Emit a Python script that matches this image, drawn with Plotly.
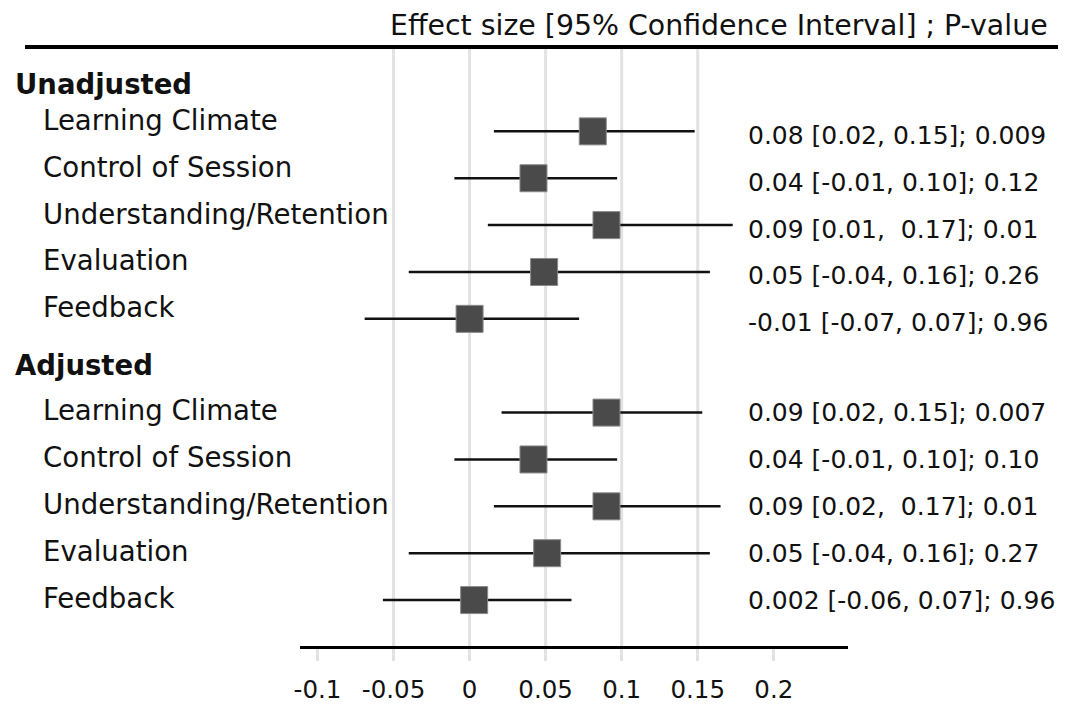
import plotly.graph_objects as go

# ---- data ----
groups = ["Unadjusted", "Adjusted"]
outcomes = ["Learning Climate", "Control of Session", "Understanding/Retention",
            "Evaluation", "Feedback"]

unadj_est = [0.081, 0.042, 0.090, 0.049, 0.000]
unadj_lo = [0.016, -0.010, 0.012, -0.040, -0.069]
unadj_hi = [0.148, 0.097, 0.173, 0.158, 0.072]
unadj_text = ["0.08 [0.02, 0.15]; 0.009", "0.04 [-0.01, 0.10]; 0.12",
              "0.09 [0.01,  0.17]; 0.01", "0.05 [-0.04, 0.16]; 0.26",
              "-0.01 [-0.07, 0.07]; 0.96"]

adj_est = [0.090, 0.042, 0.090, 0.051, 0.003]
adj_lo = [0.021, -0.010, 0.016, -0.040, -0.057]
adj_hi = [0.153, 0.097, 0.165, 0.158, 0.067]
adj_text = ["0.09 [0.02, 0.15]; 0.007", "0.04 [-0.01, 0.10]; 0.10",
            "0.09 [0.02,  0.17]; 0.01", "0.05 [-0.04, 0.16]; 0.27",
            "0.002 [-0.06, 0.07]; 0.96"]

tick_vals = [-0.1, -0.05, 0, 0.05, 0.1, 0.15, 0.2]
tick_text = ["-0.1", "-0.05", "0", "0.05", "0.1", "0.15", "0.2"]
grid_vals = [-0.05, 0, 0.05, 0.1, 0.15]
header_text = "Effect size [95% Confidence Interval] ; P-value"

FONT = "DejaVu Sans, Verdana, sans-serif"
TXT = "#111111"

# ---- rows (categorical) ----
series = [
    (groups[0], unadj_est, unadj_lo, unadj_hi, unadj_text),
    (groups[1], adj_est, adj_lo, adj_hi, adj_text),
]
cat_order = []
for g, *_ in series:
    cat_order.append(g)
    cat_order += [f"{g}|{o}" for o in outcomes]

fig = go.Figure()
annotations = []
label_shift = {groups[0]: 11, groups[1]: 2}
value_shift = {groups[0]: -4, groups[1]: 0}

W, H = 1076, 716
ML, MR, MT, MB = 300, 228, 47, 60
PW = W - ML - MR
PH = H - MT - MB


def px_to_paper_x(px):
    return (px - ML) / PW


def px_to_paper_y(py):
    return 1 + (MT - py) / PH


for g, est, lo, hi, txt in series:
    ycats = [f"{g}|{o}" for o in outcomes]
    fig.add_trace(go.Scatter(
        x=est, y=ycats, mode="markers",
        marker=dict(symbol="square", size=27, color="#4a4a4a",
                    line=dict(color="#8a8a8a", width=1)),
        error_x=dict(type="data", symmetric=False,
                     array=[h - e for h, e in zip(hi, est)],
                     arrayminus=[e - l for e, l in zip(est, lo)],
                     width=0, thickness=2.5, color="#111111"),
        showlegend=False, hoverinfo="skip"))
    # group header
    annotations.append(dict(x=px_to_paper_x(13), xref="paper", y=g, yref="y",
                            text=f"<b>{g}</b>", showarrow=False,
                            xanchor="left", yanchor="middle", yshift=1,
                            font=dict(family=FONT, size=27.5, color=TXT)))
    for o, yc, t in zip(outcomes, ycats, txt):
        annotations.append(dict(x=px_to_paper_x(41), xref="paper", y=yc, yref="y",
                                text=o, showarrow=False,
                                xanchor="left", yanchor="middle",
                                yshift=label_shift[g],
                                font=dict(family=FONT, size=27.6, color=TXT)))
        annotations.append(dict(x=px_to_paper_x(746), xref="paper", y=yc, yref="y",
                                text=t, showarrow=False,
                                xanchor="left", yanchor="middle",
                                yshift=value_shift[g],
                                font=dict(family=FONT, size=25, color=TXT)))

annotations.append(dict(x=px_to_paper_x(1050), xref="paper", y=px_to_paper_y(25),
                        yref="paper", text=header_text, showarrow=False,
                        xanchor="right", yanchor="middle",
                        font=dict(family=FONT, size=28.4, color=TXT)))

shapes = [dict(type="line", xref="x", yref="paper", x0=v, x1=v, y0=0, y1=1,
               line=dict(color="#e2e2e2", width=3), layer="below")
          for v in grid_vals]
shapes.append(dict(type="line", xref="paper", yref="paper",
                   x0=px_to_paper_x(25), x1=px_to_paper_x(1058), y0=1, y1=1,
                   line=dict(color="#000000", width=4)))

fig.update_layout(
    width=W, height=H,
    margin=dict(l=ML, r=MR, t=MT, b=MB),
    paper_bgcolor="white", plot_bgcolor="white",
    font=dict(family=FONT, color=TXT),
    annotations=annotations, shapes=shapes,
    xaxis=dict(range=[-0.1115, 0.2488], tickvals=tick_vals, ticktext=tick_text,
               showgrid=False, zeroline=False,
               showline=True, linecolor="#000000", linewidth=3,
               ticks="outside", ticklen=12, tickwidth=3, tickcolor="#e2e2e2",
               ticklabelstandoff=8,
               tickfont=dict(family=FONT, size=24.5, color=TXT)),
    yaxis=dict(type="category", categoryorder="array", categoryarray=cat_order,
               range=[11.98, -0.80], showticklabels=False, showgrid=False,
               zeroline=False, showline=False, ticks=""),
)

fig.write_html(
    "out.html",
    config={"displayModeBar": False, "staticPlot": True},
    post_script="document.body.style.margin='0';document.body.style.overflow='hidden';",
)
